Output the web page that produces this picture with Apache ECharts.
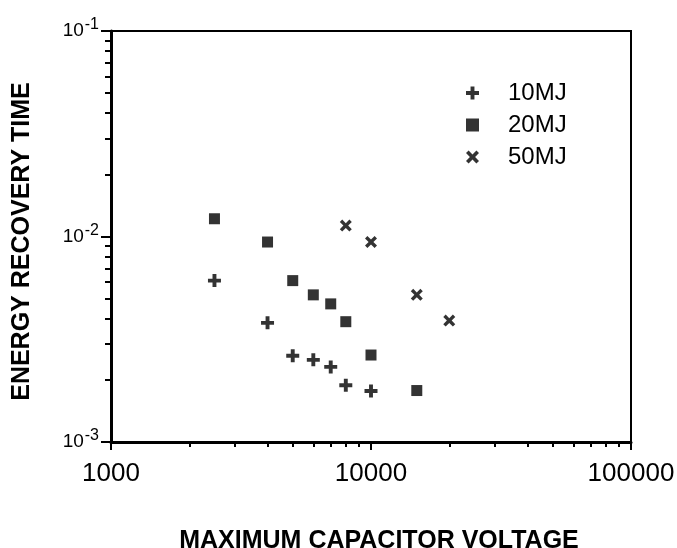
<!DOCTYPE html>
<html>
<head>
<meta charset="utf-8">
<script src="https://cdn.jsdelivr.net/npm/echarts@6/dist/echarts.min.js"></script>
<style>
  html, body { margin: 0; padding: 0; background: #fff; }
  #main { width: 677px; height: 548px; }
</style>
</head>
<body>
<div id="main"></div>
<script>
// values
var seriesNames = ['10MJ', '20MJ', '50MJ'];
var volt10 = [2500, 4000, 5000, 6000, 7000, 8000, 10000];
var time10 = [0.0061, 0.0038, 0.00263, 0.00251, 0.00232, 0.00189, 0.00177];
var volt20 = [2500, 4000, 5000, 6000, 7000, 8000, 10000, 15000];
var time20 = [0.0122, 0.0094, 0.0061, 0.0052, 0.0047, 0.00385, 0.00265, 0.00178];
var volt50 = [8000, 10000, 15000, 20000];
var time50 = [0.0113, 0.0094, 0.0052, 0.0039];

var plusPath = 'path://M3.5,0H6.5V3.5H10V6.5H6.5V10H3.5V6.5H0V3.5H3.5Z';
var crossPath = 'path://M0,2L2,0L5,3L8,0L10,2L7,5L10,8L8,10L5,7L2,10L0,8L3,5Z';

function pairs(xs, ys) {
  return xs.map(function (x, i) { return [x, ys[i]]; });
}

window.onload = function () {
  var chartDom = document.getElementById('main');
  var myChart = echarts.init(chartDom);
  var font = 'Liberation Sans, Arial, sans-serif';
  var option;
  option = {
    animation: false,
    grid: {
      left: 111, right: 46, top: 31, bottom: 106,
      outerBoundsMode: 'none',
      show: true, borderColor: '#000', borderWidth: 2
    },
    legend: {
      orient: 'vertical',
      left: 461, top: 76,
      itemWidth: 13, itemHeight: 13, itemGap: 8,
      data: seriesNames,
      textStyle: { fontFamily: font, fontSize: 24, color: '#000', padding: [0, 0, 0, 24] }
    },
    xAxis: {
      type: 'log', logBase: 10, min: 1000, max: 100000,
      name: 'MAXIMUM CAPACITOR VOLTAGE',
      nameLocation: 'middle', nameGap: 87,
      nameTextStyle: { fontFamily: font, fontSize: 25, fontWeight: 'bold', color: '#000', padding: [0, 0, 0, 16] },
      axisLine: { lineStyle: { color: '#000', width: 3 } },
      axisTick: { show: true, length: 8, lineStyle: { color: '#000', width: 2 } },
      minorTick: { show: true, splitNumber: 9, length: 5, lineStyle: { color: '#000', width: 2 } },
      splitLine: { show: false },
      axisLabel: {
        margin: 19, fontFamily: font, fontSize: 26, color: '#000',
        formatter: function (v) { return String(Math.round(v)); }
      }
    },
    yAxis: {
      type: 'log', logBase: 10, min: 0.001, max: 0.1,
      name: 'ENERGY RECOVERY TIME',
      nameLocation: 'middle', nameGap: 76, nameRotate: 90,
      nameTextStyle: { fontFamily: font, fontSize: 25, fontWeight: 'bold', color: '#000', padding: [0, 10, 0, 0] },
      axisLine: { lineStyle: { color: '#000', width: 3 } },
      axisTick: { show: true, length: 10, lineStyle: { color: '#000', width: 2 } },
      minorTick: { show: true, splitNumber: 9, length: 6, lineStyle: { color: '#000', width: 2 } },
      splitLine: { show: false },
      axisLabel: {
        margin: 12, fontFamily: font, color: '#000',
        formatter: function (v) {
          return '{b|10}{s|' + Math.round(Math.log10(v)) + '}';
        },
        rich: {
          b: { fontFamily: font, fontSize: 19, color: '#000' },
          s: { fontFamily: font, fontSize: 16, color: '#000', padding: [0, 0, 12, 1] }
        }
      }
    },
    series: [
      {
        name: seriesNames[0], type: 'scatter',
        symbol: plusPath, symbolSize: 13,
        itemStyle: { color: '#000' },
        data: pairs(volt10, time10)
      },
      {
        name: seriesNames[1], type: 'scatter',
        symbol: 'rect', symbolSize: 11,
        itemStyle: { color: '#000' },
        data: pairs(volt20, time20)
      },
      {
        name: seriesNames[2], type: 'scatter',
        symbol: crossPath, symbolSize: 12,
        itemStyle: { color: '#000' },
        data: pairs(volt50, time50)
      }
    ]
  };
  option && myChart.setOption(option);
};
</script>
</body>
</html>
